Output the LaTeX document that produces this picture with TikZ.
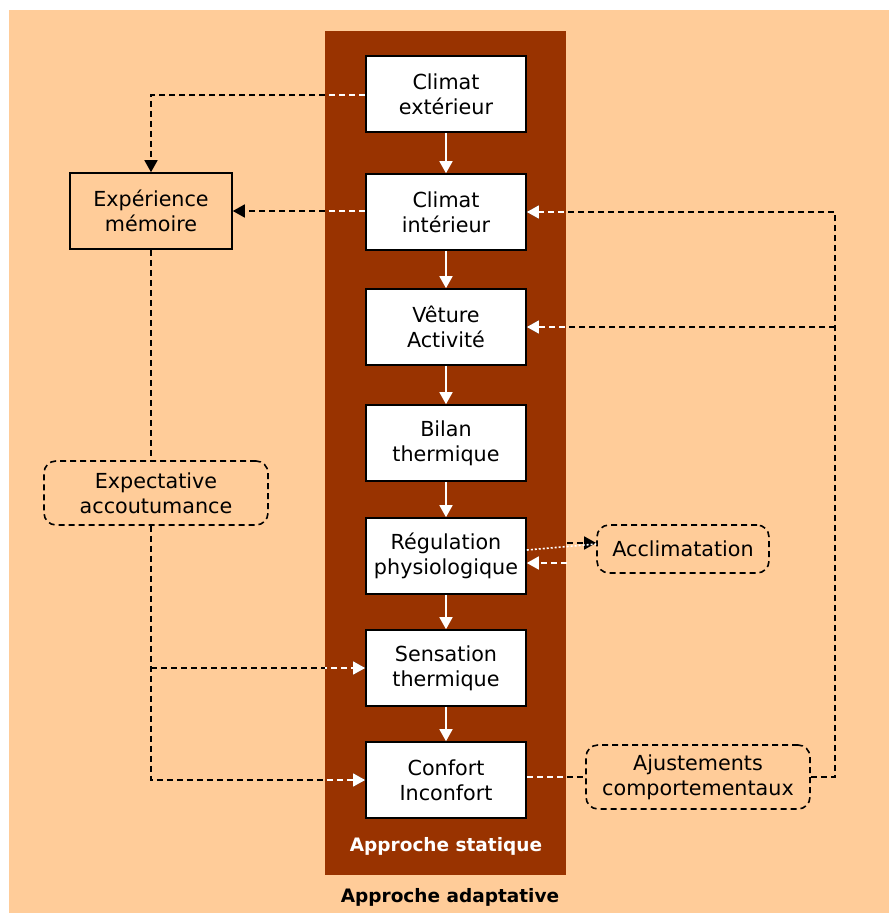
\documentclass[tikz,border=0pt]{standalone}
\usepackage{fontspec}
\setmainfont{DejaVu Sans}
\usetikzlibrary{arrows.meta,calc}
\definecolor{peach}{HTML}{FFCC99}
\definecolor{rust}{HTML}{993300}
\tikzset{
  stat/.style={draw=black,fill=white,line width=1.6pt,minimum width=160pt,minimum height=76pt,align=center,font=\fontsize{20.7}{25}\selectfont,inner sep=0pt},
  adapt/.style={draw=black,fill=peach,line width=1.6pt,align=center,font=\fontsize{20.7}{25}\selectfont,inner sep=0pt},
  soft/.style={draw=black,dash pattern=on 6pt off 4pt,line width=1.6pt,rounded corners=12pt,align=center,font=\fontsize{20.7}{25}\selectfont,inner sep=0pt},
  flow/.style={draw=white,line width=1.6pt,-{Triangle[length=12pt,width=13pt]}},
  dsh/.style={dash pattern=on 6pt off 4pt,line width=1.6pt},
  tip/.style={-{Triangle[length=12pt,width=13pt]}},
  lbl/.style={font=\bfseries\fontsize{18.5}{22}\selectfont}
}
\begin{document}
\begin{tikzpicture}[x=1pt,y=-1pt]
\useasboundingbox (0,0) rectangle (889,913);
\fill[peach] (9,10) rectangle (889,913);
\fill[rust] (325,31) rectangle (566,875);

\node[stat] (ce) at (446,94) {Climat\\extérieur};
\node[stat] (ci) at (446,212) {Climat\\intérieur};
\node[stat] (va) at (446,327) {Vêture\\Activité};
\node[stat] (bt) at (446,443) {Bilan\\thermique};
\node[stat] (rp) at (446,556) {Régulation\\physiologique};
\node[stat] (st) at (446,668) {Sensation\\thermique};
\node[stat] (cf) at (446,780) {Confort\\Inconfort};

\node[adapt,minimum width=162pt,minimum height=76pt] (em) at (151,211) {Expérience\\mémoire};
\node[soft,minimum width=224pt,minimum height=64pt] (ea) at (156,493) {Expectative\\accoutumance};
\node[soft,minimum width=172pt,minimum height=48pt] (ac) at (683,549) {Acclimatation};
\node[soft,minimum width=224pt,minimum height=64pt] (aj) at (698,777) {Ajustements\\comportementaux};

\node[lbl,text=white] (ls) at (446,846) {Approche statique};
\node[lbl,text=black] (la) at (450,897) {Approche adaptative};

% white solid flow
\draw[flow] (ce) -- (ci);
\draw[flow] (ci) -- (va);
\draw[flow] (va) -- (bt);
\draw[flow] (bt) -- (rp);
\draw[flow] (rp) -- (st);
\draw[flow] (st) -- (cf);

% coordinates
\coordinate (emx) at (151,0);
\coordinate (j1) at (emx |- st.west);
\coordinate (r1) at (835,0);
\coordinate (rb) at (r1 |- aj.east);
\coordinate (rt) at (r1 |- ci.east);
\coordinate (rv) at (r1 |- va.east);
\coordinate (a1) at ($(rp.east)+(40,-13)$);
\coordinate (a2) at ($(rp.east)+(40,7)$);

\foreach \c/\clipit in {black/0,white/1}{
\begin{scope}
\ifnum\clipit=1 \clip (325,31) rectangle (566,875); \fi
\draw[dsh,tip,\c] ($(ce.west)+(0,1)$) -| (em.north);
\draw[dsh,tip,\c] (ci.west |- em.east) -- (em.east);
\draw[dsh,\c] (em.south) -- (emx |- ea.north);
\draw[dsh,tip,\c] (emx |- ea.south) |- (cf.west);
\draw[dsh,tip,\c] (j1) -- (st.west);
\draw[dsh,\c] (cf.east |- aj.west) -- (aj.west);
\draw[dsh,tip,\c] (aj.east) -- (rb) -- (rt) -- (ci.east);
\draw[dsh,tip,\c] (rv) -- (va.east);
\end{scope}
}
\draw[dsh,tip,black] (a1) -- (a1 -| ac.west);
\draw[dsh,tip,white] (a2) -- (a2 -| rp.east);
\draw[white,line width=1.6pt,dash pattern=on 2pt off 2pt] ($(rp.east)+(0,-6)$) -- ($(ac.west)+(0,-5)$);
\end{tikzpicture}
\end{document}
